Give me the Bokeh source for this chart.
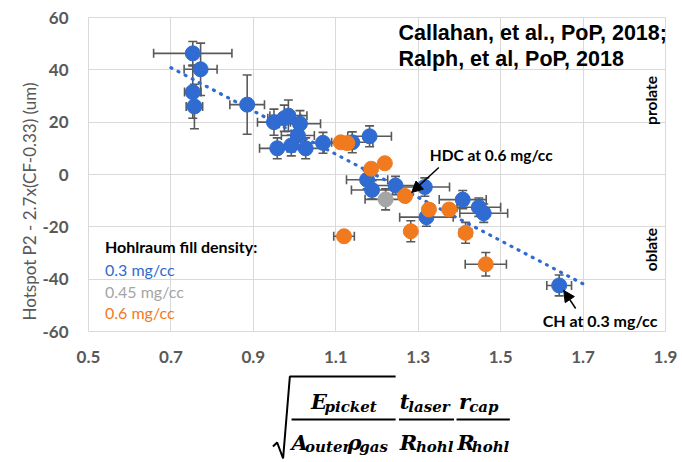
import math
from bokeh.plotting import figure
from bokeh.models import (Range1d, FixedTicker, Whisker, TeeHead, ColumnDataSource,
                          Label, Arrow, NormalHead, Title)
from bokeh.core.properties import value
from bokeh.layouts import column
from bokeh.embed import file_html
from bokeh.resources import INLINE

# ---- data -------------------------------------------------------------
# 0.3 mg/cc fill
blue_x = [0.753, 0.772, 0.753, 0.757, 0.885, 0.950, 0.975, 0.985, 1.013, 1.008,
          0.958, 0.992, 1.027, 1.069, 1.140, 1.182, 1.176, 1.188, 1.245, 1.316,
          1.320, 1.408, 1.447, 1.459, 1.642]
blue_y = [46.3, 40.2, 31.5, 26.0, 26.7, 20.0, 21.5, 22.5, 19.4, 14.9,
          10.0, 11.1, 10.0, 12.1, 12.3, 14.6, -2.0, -5.9, -4.2, -4.8,
          -16.3, -9.6, -12.5, -14.8, -42.4]
blue_xerr = [0.095, 0.040, 0.020, 0.020, 0.042, 0.040, 0.040, 0.045, 0.050, 0.040,
             0.043, 0.040, 0.045, 0.045, 0.050, 0.053, 0.050, 0.050, 0.060, 0.060,
             0.065, 0.057, 0.053, 0.058, 0.030]
blue_yerr = [4.5, 10.0, 10.0, 8.5, 11.3, 5.0, 5.0, 6.0, 5.0, 5.0,
             4.0, 4.0, 4.0, 4.0, 4.0, 4.0, 3.5, 3.5, 3.5, 3.5,
             3.5, 3.5, 3.5, 3.5, 4.0]

# 0.45 mg/cc fill
gray_x = [1.221]
gray_y = [-9.5]
gray_xerr = [0.050]
gray_yerr = [4.0]

# 0.6 mg/cc fill
orange_x = [1.112, 1.128, 1.186, 1.219, 1.268, 1.326, 1.375, 1.120, 1.282, 1.415, 1.464]
orange_y = [12.3, 12.0, 2.2, 4.3, -8.2, -13.4, -13.4, -23.6, -21.7, -22.3, -34.3]
orange_xerr = [0.010, 0.010, 0.010, 0.010, 0.010, 0.010, 0.010, 0.025, 0.012, 0.015, 0.050]
orange_yerr = [1.5, 1.5, 2.0, 2.0, 2.0, 2.0, 2.0, 1.5, 4.0, 4.0, 4.5]

# linear trend line end points
trend_x = [0.70, 1.70]
trend_y = [40.8, -41.8]

x_ticks = [0.5, 0.7, 0.9, 1.1, 1.3, 1.5, 1.7, 1.9]
x_tick_labels = ["0.5", "0.7", "0.9", "1.1", "1.3", "1.5", "1.7", "1.9"]
y_ticks = [-60, -40, -20, 0, 20, 40, 60]
y_tick_labels = ["-60", "-40", "-20", "0", "20", "40", "60"]

BLUE = "#2F6BD0"
GRAY = "#A5A5A5"
ORANGE = "#F27A1E"
ERR = "#595959"
GRID = "#D9D9D9"
TICK = "#595959"

# ---- main chart -------------------------------------------------------
p = figure(width=682, height=366, x_range=Range1d(0.5, 1.9), y_range=Range1d(-60, 60),
           output_backend="svg", toolbar_location=None,
           min_border_left=88, min_border_right=17, min_border_top=17, min_border_bottom=35)
p.background_fill_color = "white"
p.border_fill_color = "white"
p.outline_line_color = GRID
p.outline_line_width = 1

p.xaxis.ticker = FixedTicker(ticks=x_ticks)
p.yaxis.ticker = FixedTicker(ticks=y_ticks)
p.xaxis.major_label_overrides = {t: s for t, s in zip(x_ticks, x_tick_labels)}
p.yaxis.major_label_overrides = {t: s for t, s in zip(y_ticks, y_tick_labels)}
for ax in (p.xaxis, p.yaxis):
    ax.axis_line_color = None
    ax.major_tick_line_color = None
    ax.minor_tick_line_color = None
    ax.major_label_text_font = "Lato"
    ax.major_label_text_font_style = "bold"
    ax.major_label_text_font_size = "17px"
    ax.major_label_text_color = TICK
p.xaxis.major_label_standoff = 13
p.yaxis.major_label_standoff = 20
p.yaxis.axis_label_standoff = 0
p.yaxis.major_tick_out = 0
p.yaxis.major_tick_in = 0

p.xgrid.grid_line_color = GRID
p.ygrid.grid_line_color = GRID
p.xgrid.grid_line_width = 1
p.ygrid.grid_line_width = 1

# vertical quantity name, set as a side title that starts near the frame bottom
p.add_layout(Title(text="Hotspot P2 - 2.7x(CF-0.33) (um)", align="left", offset=11,
                   text_font="Lato", text_font_size="17px", text_font_style="normal",
                   text_color=TICK, standoff=0), "left")

# trend line
p.line(trend_x, trend_y, line_color=BLUE, line_width=3.2, line_dash="1 7", line_cap="round")


def add_series(xs, ys, xerr, yerr, color):
    src = ColumnDataSource(dict(
        x=xs, y=ys,
        xl=[a - e for a, e in zip(xs, xerr)], xu=[a + e for a, e in zip(xs, xerr)],
        yl=[a - e for a, e in zip(ys, yerr)], yu=[a + e for a, e in zip(ys, yerr)],
    ))
    for dim, base, lo, hi in (("width", "y", "xl", "xu"), ("height", "x", "yl", "yu")):
        w = Whisker(source=src, base=base, lower=lo, upper=hi, dimension=dim,
                    line_color=ERR, line_width=1.6,
                    lower_head=TeeHead(size=9, line_color=ERR, line_width=1.6),
                    upper_head=TeeHead(size=9, line_color=ERR, line_width=1.6))
        p.add_layout(w)
    p.scatter("x", "y", source=src, size=15, fill_color=color, line_color=color)


add_series(blue_x, blue_y, blue_xerr, blue_yerr, BLUE)
add_series(gray_x, gray_y, gray_xerr, gray_yerr, GRAY)
add_series(orange_x, orange_y, orange_xerr, orange_yerr, ORANGE)

# reference text
for txt, yy in (("Callahan, et al., PoP, 2018;", 53.9), ("Ralph, et al, PoP, 2018", 44.3)):
    p.add_layout(Label(x=1.252, y=yy, text=txt, text_font="Liberation Sans",
                       text_font_style="bold", text_font_size="21.5px", text_color="black",
                       text_baseline="middle", text_align="left"))

# side labels
for txt, yy in (("prolate", 28.3), ("oblate", -28.7)):
    p.add_layout(Label(x=1.864, y=yy, text=txt, angle=math.pi / 2, text_font="Lato",
                       text_font_style="bold", text_font_size="15.5px", text_color="black",
                       text_baseline="middle", text_align="center"))

# fill density key
key = [("Hohlraum fill density:", "black", "bold", -27.5),
       ("0.3 mg/cc", BLUE, "normal", -36.3),
       ("0.45 mg/cc", GRAY, "normal", -44.7),
       ("0.6 mg/cc", ORANGE, "normal", -52.7)]
for txt, col, style, yy in key:
    p.add_layout(Label(x=0.540, y=yy, text=txt, text_font="Lato", text_font_style=style,
                       text_font_size="16px", text_color=col,
                       text_baseline="middle", text_align="left"))

# callouts
p.add_layout(Label(x=1.328, y=7.3, text="HDC at 0.6 mg/cc", text_font="Lato",
                   text_font_style="bold", text_font_size="15.5px", text_color="black",
                   text_baseline="middle", text_align="left"))
p.add_layout(Arrow(x_start=1.350, y_start=2.7, x_end=1.284, y_end=-6.9,
                   line_color="black", line_width=1.5,
                   end=NormalHead(size=11, fill_color="black", line_color="black")))
p.add_layout(Label(x=1.602, y=-55.8, text="CH at 0.3 mg/cc", text_font="Lato",
                   text_font_style="bold", text_font_size="16px", text_color="black",
                   text_baseline="middle", text_align="left"))
p.add_layout(Arrow(x_start=1.682, y_start=-51.2, x_end=1.653, y_end=-44.3,
                   line_color="black", line_width=1.5,
                   end=NormalHead(size=11, fill_color="black", line_color="black")))

# ---- x-axis quantity (typeset formula) -------------------------------
f = figure(width=682, height=96, x_range=Range1d(0, 682), y_range=Range1d(96, 0),
           output_backend="svg", toolbar_location=None,
           min_border=0, min_border_left=0, min_border_right=0,
           min_border_top=0, min_border_bottom=0)
f.axis.visible = False
f.grid.visible = False
f.outline_line_color = None
f.background_fill_color = "white"
f.border_fill_color = "white"

# radical sign and fraction bars
f.line([218, 223, 230, 238, 363], [80, 76, 92, 10, 10], line_color="black", line_width=2)
for x0, x1 in ((240, 363), (367, 432), (435, 498)):
    f.line([x0, x1], [53, 53], line_color="black", line_width=2)

# symbols and their subscripts
main_txt = ["E", "A", "ρ", "t", "R", "r", "R"]
main_x = [263, 240, 306, 368, 368, 438, 436]
main_y = [35, 76, 76, 35, 76, 35, 76]
sub_txt = ["picket", "outer", "gas", "laser", "hohl", "cap", "hohl"]
sub_x = [279, 256, 320, 378, 387, 450, 453]
sub_y = [40, 80, 80, 40, 80, 40, 80]

f.text(main_x, main_y, text=main_txt, text_font=value("DejaVu Serif"),
       text_font_style="bold italic", text_font_size="21px", text_color="black",
       text_baseline="alphabetic", text_align="left")
f.text(sub_x, sub_y, text=sub_txt, text_font=value("DejaVu Serif"),
       text_font_style="bold italic", text_font_size="15px", text_color="black",
       text_baseline="alphabetic", text_align="left")

layout = column(p, f, spacing=0)
open("out.html", "w").write(file_html(layout, INLINE))
